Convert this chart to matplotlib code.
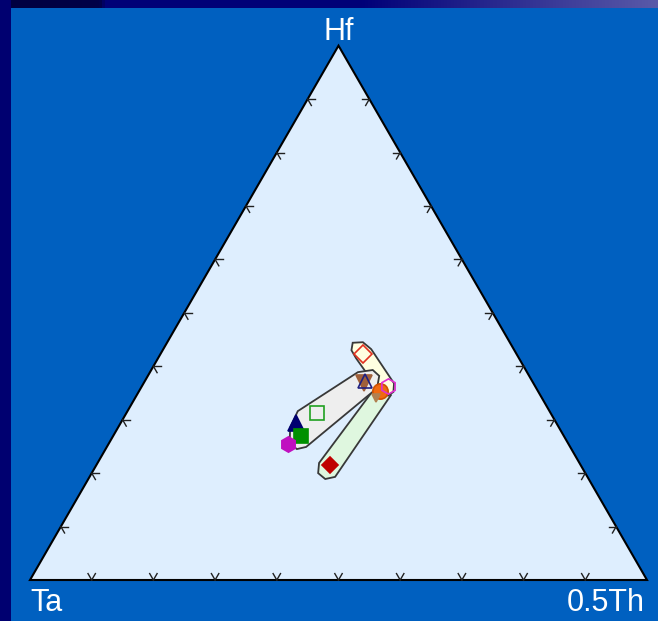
import numpy as np
import matplotlib.pyplot as plt
from matplotlib.patches import Polygon, Rectangle

# -------------------------------
# data: percentages of Hf / Ta / 0.5Th
# -------------------------------
corner_labels = ['Ta', 'Hf', '0.5Th']

sample_hf = [42.3, 36.9, 37.2, 35.4, 36.3, 34.1, 31.2, 29.4, 27.0, 25.4, 21.5]
sample_th = [32.8, 35.7, 35.7, 39.0, 39.9, 39.1, 30.9, 28.4, 30.5, 29.1, 37.8]
sample_ta = [24.9, 27.4, 27.1, 25.6, 23.8, 26.8, 37.9, 42.2, 42.5, 45.5, 40.7]

# fields drawn behind the samples
yellow_hf = [44.4, 44.5, 43.2, 36.8, 35.2, 34.5, 35.2, 41.5, 43.0]
yellow_th = [30.1, 31.7, 33.7, 40.6, 41.3, 40.8, 39.1, 32.1, 30.6]

gray_hf = [28.5, 31.6, 38.9, 39.3, 38.2, 35.9, 24.9, 24.5, 25.6]
gray_th = [27.9, 27.6, 33.7, 35.9, 37.5, 38.3, 32.3, 31.0, 29.3]

green_hf = [21.9, 35.0, 35.8, 34.6, 19.3, 18.9, 20.0]
green_th = [35.9, 37.8, 39.7, 41.2, 39.8, 38.4, 36.7]


def to_xy(hf, th):
    hf = np.asarray(hf) / 100.0
    th = np.asarray(th) / 100.0
    return th + hf / 2, hf * np.sqrt(3) / 2


# -------------------------------
# figure + background
# -------------------------------
W, H = 658, 621
fig = plt.figure(figsize=(W / 100, H / 100), dpi=100)
fig.patch.set_facecolor('#0060C0')

# top strip gradient and left strip
bar = fig.add_axes([0, 1 - 8 / H, 1, 8 / H])
grad = np.zeros((1, 200, 3))
stops_x = [0, 0.15, 0.16, 0.55, 1.0]
stops_c = [(0.0, 0.0, 0.25), (0.0, 0.0, 0.28), (0.0, 0.0, 0.47), (0.0, 0.0, 0.47), (0.35, 0.35, 0.66)]
xs = np.linspace(0, 1, 200)
for k in range(3):
    grad[0, :, k] = np.interp(xs, stops_x, [c[k] for c in stops_c])
bar.imshow(grad, aspect='auto', extent=[0, 1, 0, 1])
bar.axis('off')
fig.add_artist(Rectangle((0, 0), 11 / W, 1, transform=fig.transFigure,
                         facecolor='#000070', edgecolor='none'))

# main axes: ternary unit triangle, 617 px per unit
s = 617.0
ax = fig.add_axes([11 / W, 0, 1 - 11 / W, 1 - 8 / H])
ax.set_xlim(-(30 - 11) / s, (W - 30) / s)
ax.set_ylim(-(H - 580) / s, (580 - 8) / s)
ax.axis('off')

# -------------------------------
# triangle + ticks
# -------------------------------
h3 = np.sqrt(3) / 2
tri = Polygon([[0, 0], [1, 0], [0.5, h3]], closed=True, facecolor='#DEEEFE',
              edgecolor='black', linewidth=1.5, zorder=1)
ax.add_patch(tri)

tl = 0.012
for i in range(1, 10):
    f = i / 10
    # bottom edge
    x0, y0 = f, 0
    for d in [(0.5, h3), (-0.5, h3)]:
        ax.plot([x0, x0 + tl * d[0]], [y0, y0 + tl * d[1]], color='#202020', lw=1, zorder=2)
    # left edge
    x0, y0 = f / 2, f * h3
    for d in [(1, 0), (0.5, -h3)]:
        ax.plot([x0, x0 + tl * d[0]], [y0, y0 + tl * d[1]], color='#202020', lw=1, zorder=2)
    # right edge
    x0, y0 = 1 - f / 2, f * h3
    for d in [(-1, 0), (-0.5, -h3)]:
        ax.plot([x0, x0 + tl * d[0]], [y0, y0 + tl * d[1]], color='#202020', lw=1, zorder=2)

# -------------------------------
# fields
# -------------------------------
for hf, th, col in [(green_hf, green_th, '#DFF7DF'),
                    (yellow_hf, yellow_th, '#FFFFE0'),
                    (gray_hf, gray_th, '#EEEEEE')]:
    x, y = to_xy(hf, th)
    ax.add_patch(Polygon(np.column_stack([x, y]), closed=True, facecolor=col,
                         edgecolor='#383838', linewidth=1.3, zorder=3))

# -------------------------------
# samples
# -------------------------------
styles = [
    ('D', 'none', '#E03020', 9),
    ('v', '#A0603A', '#A0603A', 12),
    ('^', 'none', '#202080', 10),
    ('o', '#F06A10', '#D05000', 11),
    ('h', 'none', '#E030D0', 11),
    ('v', '#B08050', '#B08050', 6),
    ('s', 'none', '#20A020', 10),
    ('^', '#000070', '#000070', 11),
    ('s', '#009000', '#009000', 10),
    ('h', '#C010C0', '#C010C0', 11),
    ('D', '#C00000', '#C00000', 8),
]
x, y = to_xy(sample_hf, sample_th)
for j, (m, fc, ec, ms) in enumerate(styles):
    ax.plot(x[j], y[j], marker=m, markerfacecolor=fc, markeredgecolor=ec,
            markersize=ms, markeredgewidth=1.2, linestyle='none', zorder=5 + j)

# -------------------------------
# corner labels
# -------------------------------
font = dict(color='white', fontsize=22, family=['Liberation Sans', 'DejaVu Sans'])
ax.text(0, -(611 - 580) / s, corner_labels[0], ha='left', va='baseline', **font)
ax.text(0.5, (580 - 40) / s, corner_labels[1], ha='center', va='baseline', **font)
ax.text((645 - 30) / s, -(611 - 580) / s, corner_labels[2], ha='right', va='baseline', **font)

plt.savefig('out.png', dpi=100, facecolor=fig.get_facecolor())
